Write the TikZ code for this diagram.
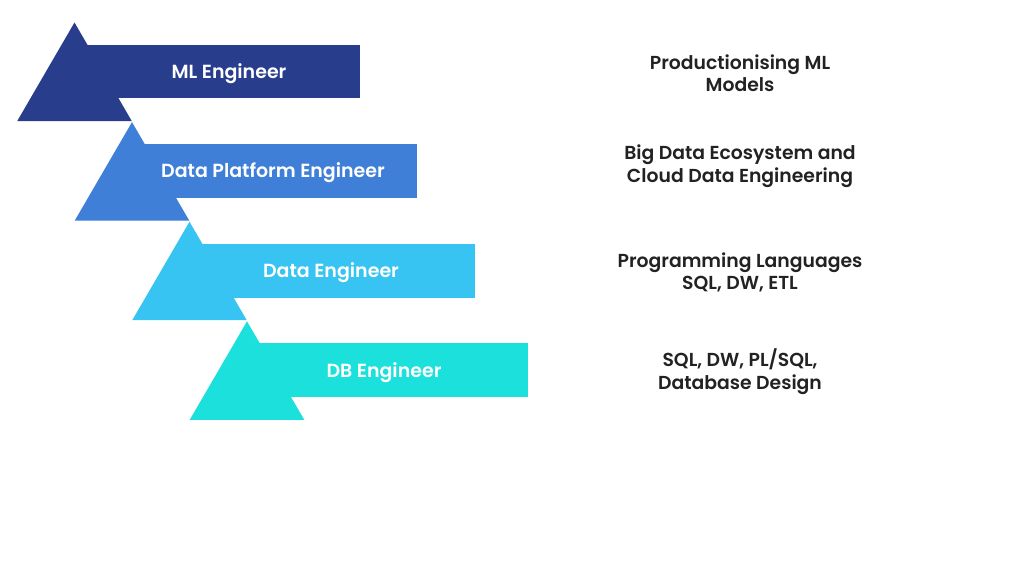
\documentclass[tikz,border=0pt]{standalone}
\usepackage{fontspec}
\setmainfont{Poppins}[BoldFont={Poppins SemiBold}]
\usepackage{xcolor}
\definecolor{mlblue}{HTML}{283E8D}
\definecolor{dpblue}{HTML}{3F7FD8}
\definecolor{deblue}{HTML}{38C4F2}
\definecolor{dbcyan}{HTML}{1CE0DC}
\definecolor{desctext}{HTML}{222222}
\tikzset{
  rolelabel/.style={text=white,font=\bfseries\fontsize{19}{22}\selectfont},
  desclabel/.style={text=desctext,align=center,font=\bfseries\fontsize{18.8}{22.5}\selectfont}
}

\begin{document}
\begin{tikzpicture}[x=1pt,y=-1pt]

  \useasboundingbox[fill=white] (0,0) rectangle (1024,576);

  \def\halfw{57.25}
  \def\tri{98.5}
  \def\rtop{22}

  \coordinate (Aml) at (74.5,22.5);
  \coordinate (Adp) at (132,122.1);
  \coordinate (Ade) at (189.5,221.7);
  \coordinate (Adb) at (247,321.3);

  % ML Engineer
  \fill[mlblue] (Aml) -- ++(\halfw,\tri) -- ++(-2*\halfw,0) -- cycle;
  \fill[mlblue] ([yshift=-\rtop pt]Aml) rectangle (360,98);
  % Data Platform Engineer
  \fill[dpblue] (Adp) -- ++(\halfw,\tri) -- ++(-2*\halfw,0) -- cycle;
  \fill[dpblue] ([yshift=-\rtop pt]Adp) rectangle (417,197.5);
  % Data Engineer
  \fill[deblue] (Ade) -- ++(\halfw,\tri) -- ++(-2*\halfw,0) -- cycle;
  \fill[deblue] ([yshift=-\rtop pt]Ade) rectangle (475,297.5);
  % DB Engineer
  \fill[dbcyan] (Adb) -- ++(\halfw,\tri) -- ++(-2*\halfw,0) -- cycle;
  \fill[dbcyan] ([yshift=-\rtop pt]Adb) rectangle (528,396.8);

  \node[rolelabel] (ml) at (229,73.5) {ML Engineer};
  \node[rolelabel] (dp) at (273,173) {Data Platform Engineer};
  \node[rolelabel] (de) at (331,273) {Data Engineer};
  \node[rolelabel] (db) at (384,372.5) {DB Engineer};

  \node[desclabel] (mld) at (740,73) {Productionising ML\\Models};
  \node[desclabel] (dpd) at (740,166) {Big Data Ecosystem and\\Cloud Data Engineering};
  \node[desclabel] (ded) at (740,272.5) {Programming Languages\\SQL, DW, ETL};
  \node[desclabel] (dbd) at (740,371.5) {SQL, DW, PL/SQL,\\Database Design};

\end{tikzpicture}
\end{document}
